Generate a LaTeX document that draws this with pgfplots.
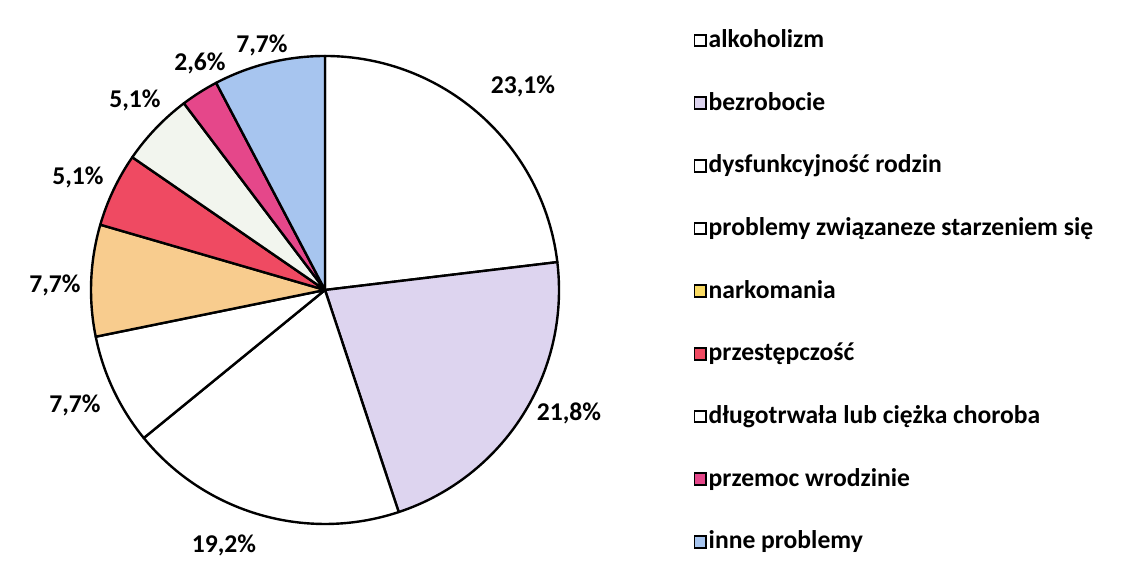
\documentclass[border=0pt]{standalone}
\usepackage{pgfplots}
\usepackage{pgfplotstable}
\pgfplotsset{compat=1.18}
\usepackage{fontspec}
\setmainfont{Carlito}

\definecolor{pie0}{HTML}{FFFFFF}
\definecolor{pie1}{HTML}{DDD4EF}
\definecolor{pie2}{HTML}{FFFFFF}
\definecolor{pie3}{HTML}{FFFFFF}
\definecolor{pie4}{HTML}{F8CC8E}
\definecolor{pie5}{HTML}{EF4A62}
\definecolor{pie6}{HTML}{F2F5EE}
\definecolor{pie7}{HTML}{E5478A}
\definecolor{pie8}{HTML}{A7C5EF}

% value, label position (pixels, y from bottom)
\pgfplotstableread[col sep=comma]{
value,lx,ly,txt
23.1,523,476,{23,1\%}
21.8,569,149,{21,8\%}
19.2,224,17,{19,2\%}
7.7,75,157,{7,7\%}
7.7,55,277,{7,7\%}
5.1,78,385,{5,1\%}
5.1,135,462,{5,1\%}
2.6,200,499,{2,6\%}
7.7,262,517,{7,7\%}
}\piedata

\begin{document}
\begin{tikzpicture}
\begin{axis}[
  x=0.375pt, y=0.375pt,
  xmin=0, xmax=1136, ymin=0, ymax=562,
  hide axis, clip=false,
  legend style={draw=none, fill=none, at={(0.603,0.962)}, anchor=north west,
    font=\bfseries\fontsize{9.6}{11.5}\selectfont, row sep=13.1pt,
    nodes={inner sep=0.6pt, text height=7pt, text depth=2.2pt}},
  legend cell align=left,
  legend image code/.code={\draw[#1, line width=0.7pt] (0pt,-2.0pt) rectangle (4.4pt,2.4pt);},
]
\path (axis cs:0,0) rectangle (axis cs:1136,562);
\pgfplotstablegetrowsof{\piedata}
\pgfmathtruncatemacro\N{\pgfplotsretval-1}
\def\cum{0}
\pgfplotsforeachungrouped \i in {0,...,\N}{
  \pgfplotstablegetelem{\i}{value}\of\piedata \let\v\pgfplotsretval
  \pgfplotstablegetelem{\i}{lx}\of\piedata \let\lx\pgfplotsretval
  \pgfplotstablegetelem{\i}{ly}\of\piedata \let\ly\pgfplotsretval
  \pgfplotstablegetelem{\i}{txt}\of\piedata \let\txt\pgfplotsretval
  \pgfmathsetmacro\a{90-3.6*\cum}
  \pgfmathsetmacro\b{90-3.6*(\cum+\v)}
  \edef\temp{\noexpand\filldraw[fill=pie\i, draw=black, line width=0.9pt, line join=round]
    (axis cs:325,272) -- ++(\a:87.75pt) arc[start angle=\a, end angle=\b, radius=87.75pt] -- cycle;
    \noexpand\node[font=\noexpand\bfseries\noexpand\fontsize{9.6}{10}\noexpand\selectfont] at (axis cs:\lx,\ly) {\expandafter\noexpand\txt};}
  \temp
  \pgfmathsetmacro\cum{\cum+\v}
}
\addlegendimage{fill=pie0, draw=black}
\addlegendentry{alkoholizm}
\addlegendimage{fill=pie1, draw=black}
\addlegendentry{bezrobocie}
\addlegendimage{fill=white, draw=black}
\addlegendentry{dysfunkcyjność rodzin}
\addlegendimage{fill=white, draw=black}
\addlegendentry{problemy związaneze starzeniem się}
\addlegendimage{fill=pie4!70!yellow, draw=black}
\addlegendentry{narkomania}
\addlegendimage{fill=pie5, draw=black}
\addlegendentry{przestępczość}
\addlegendimage{fill=white, draw=black}
\addlegendentry{długotrwała lub ciężka choroba}
\addlegendimage{fill=pie7, draw=black}
\addlegendentry{przemoc wrodzinie}
\addlegendimage{fill=pie8, draw=black}
\addlegendentry{inne problemy}
\end{axis}
\pgfresetboundingbox
\path[use as bounding box] (current axis.south west) rectangle (current axis.north east);
\end{tikzpicture}
\end{document}
